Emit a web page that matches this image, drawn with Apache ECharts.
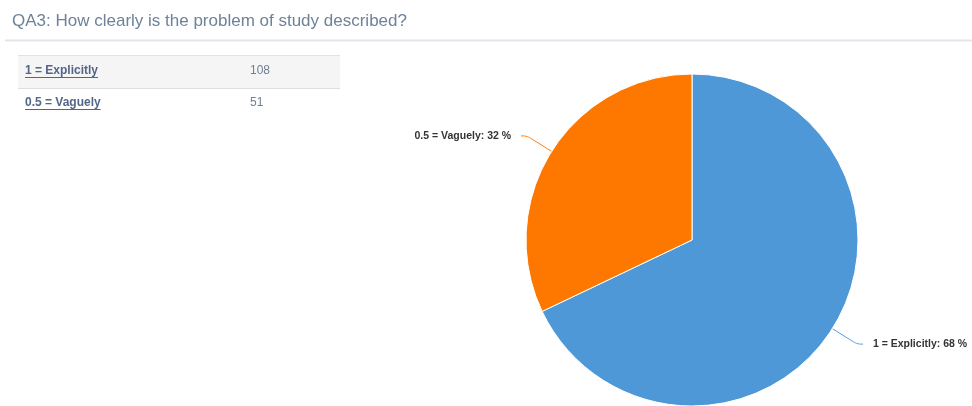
<!DOCTYPE html>
<html><head><meta charset="utf-8">
<script src="https://cdn.jsdelivr.net/npm/echarts@6/dist/echarts.min.js"></script>
<style>html,body{margin:0;padding:0;background:#fff}#c{width:972px;height:406px}</style>
</head><body><div id="c"></div>
<script>
var titleText = 'QA3: How clearly is the problem of study described?';
var categories = ['1 = Explicitly', '0.5 = Vaguely'];
var counts = [108, 51];
var colors = ['#4f98d8', '#fe7800'];

var total = counts.reduce(function(a,b){return a+b;},0);
var chart = echarts.init(document.getElementById('c'));
var font = '"Helvetica Neue", Helvetica, Arial, "Liberation Sans", sans-serif';
var measureCtx = document.createElement('canvas').getContext('2d');

var graphics = [
  {type:'line', shape:{x1:5,y1:40.5,x2:972,y2:40.5}, style:{stroke:'#e2e6ec', lineWidth:2}},
  {type:'rect', shape:{x:18,y:55,width:322,height:33}, style:{fill:'#f5f5f5'}},
  {type:'line', shape:{x1:18,y1:55.5,x2:340,y2:55.5}, style:{stroke:'#e3e3e3', lineWidth:1}},
  {type:'line', shape:{x1:18,y1:88.5,x2:340,y2:88.5}, style:{stroke:'#dedede', lineWidth:1}}
];
var rowFont = 'bold 12px ' + font;
measureCtx.font = rowFont;
categories.forEach(function(cat,i){
  var y = 72 + i*32;
  graphics.push({type:'text', left:25, top:y-7, style:{text:cat, font:rowFont, fill:'#52668a'}});
  graphics.push({type:'text', left:250, top:y-7, style:{text:String(counts[i]), font:'12px '+font, fill:'#6f7f94'}});
  var w = measureCtx.measureText(cat).width;
  graphics.push({type:'line', shape:{x1:25,y1:y+5.5,x2:25+w,y2:y+5.5}, style:{stroke:'#52668a', lineWidth:1}});
});

chart.setOption({
  animation:false,
  title:{text:titleText, left:7, top:8, textStyle:{fontFamily:font, fontSize:17, fontWeight:'normal', color:'#6e8299'}},
  graphic: graphics,
  series:[{
    type:'pie',
    center:[692,240],
    radius:[0,166],
    startAngle:90,
    clockwise:true,
    itemStyle:{borderColor:'#fff', borderWidth:1},
    label:{show:true, formatter:function(p){return p.name+': '+Math.round(p.value/total*100)+' %';},
      fontFamily:font, fontSize:10.5, fontWeight:'bold', color:'#333', distanceToLabelLine:10, overflow:'none'},
    labelLine:{show:true, length:29, length2:6, smooth:0.4, lineStyle:{width:1}},
    data: categories.map(function(c,i){return {name:c, value:counts[i], itemStyle:{color:colors[i]}, labelLine:{lineStyle:{color:colors[i]}}};})
  }]
});
</script></body></html>
